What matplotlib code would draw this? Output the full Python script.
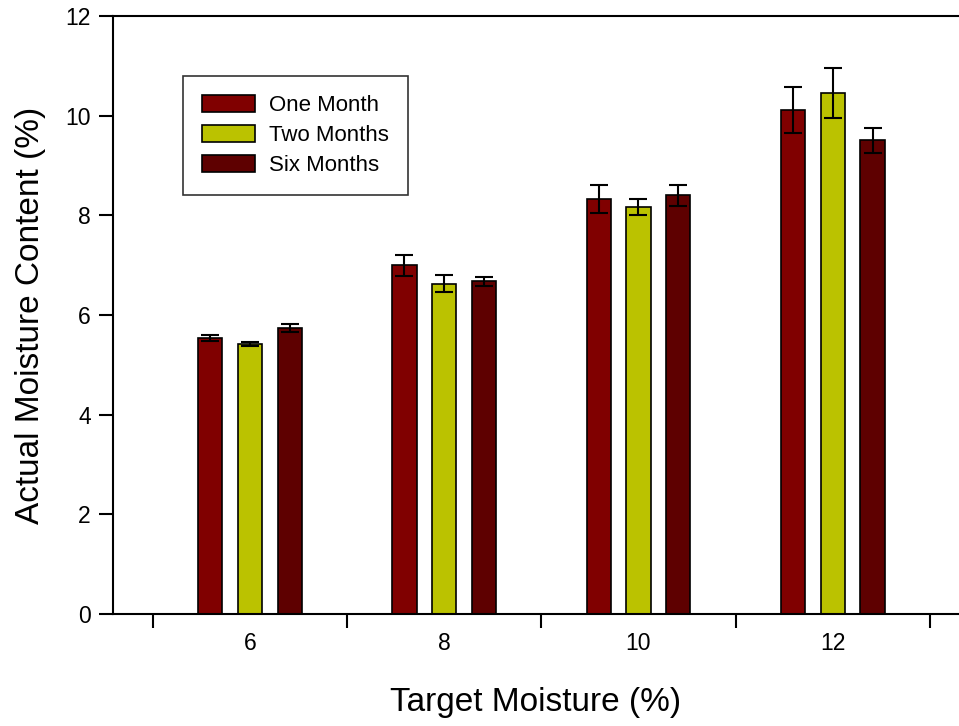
import matplotlib
matplotlib.use("Agg")
import matplotlib.pyplot as plt
import numpy as np

plt.rcParams['font.family'] = ['Liberation Sans', 'DejaVu Sans']

# data
target = [6, 8, 10, 12]
one_month = [5.53, 7.00, 8.33, 10.11]
one_month_err = [0.06, 0.21, 0.28, 0.46]
two_months = [5.42, 6.63, 8.16, 10.45]
two_months_err = [0.04, 0.17, 0.16, 0.50]
six_months = [5.73, 6.68, 8.40, 9.51]
six_months_err = [0.08, 0.09, 0.21, 0.25]

series = [
    ("One Month", one_month, one_month_err, "#800000"),
    ("Two Months", two_months, two_months_err, "#BBC200"),
    ("Six Months", six_months, six_months_err, "#5E0000"),
]

fig = plt.figure(figsize=(9.59, 7.26), dpi=100)
ax = fig.add_axes([113 / 959, 1 - 614 / 726, (959 - 113) / 959, (614 - 16) / 726])

x = np.array(target, dtype=float)
offsets = [-0.41, 0.0, 0.41]
width = 0.25
for (name, vals, errs, color), off in zip(series, offsets):
    ax.bar(x + off, vals, width, color=color, edgecolor='black', linewidth=1.2,
           label=name, zorder=2)
    ax.errorbar(x + off, vals, yerr=errs, fmt='none', ecolor='black',
                elinewidth=1.5, capsize=6.5, capthick=1.5, zorder=3)

ax.set_xlim(4.59, 13.3)
ax.set_ylim(0, 12)
ax.set_yticks([0, 2, 4, 6, 8, 10, 12])
ax.set_xticks([5, 7, 9, 11, 13])
ax.set_xticklabels([])
ax.set_xticks(target, minor=True)
ax.set_xticklabels([str(t) for t in target], minor=True)
ax.tick_params(axis='x', which='minor', length=0, pad=13, labelsize=16.5)
ax.tick_params(axis='x', which='major', direction='out', length=10, width=1.5)
ax.tick_params(axis='y', direction='out', length=10, width=1.5, labelsize=16.5, pad=6)

ax.spines['right'].set_visible(False)
for s in ['left', 'top', 'bottom']:
    ax.spines[s].set_linewidth(1.5)

ax.set_xlabel("Target Moisture (%)", fontsize=24, labelpad=23)
ax.set_ylabel("Actual Moisture Content (%)", fontsize=24, labelpad=14)

leg = ax.legend(loc='upper left', bbox_to_anchor=(0.083, 0.9), fontsize=16,
                frameon=True, fancybox=False, edgecolor='black',
                handlelength=2.4, handleheight=0.8, handletextpad=0.6,
                labelspacing=0.4, borderpad=0.85, borderaxespad=0)
leg.get_frame().set_linewidth(1.2)

fig.savefig("out.png", dpi=100)
